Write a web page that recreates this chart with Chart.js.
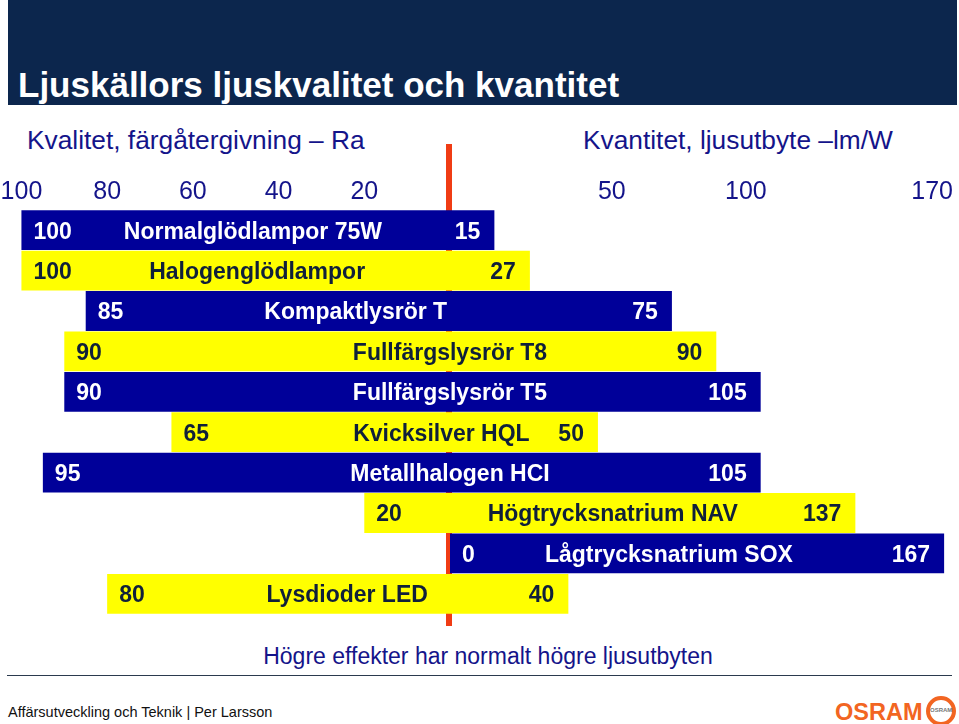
<!DOCTYPE html>
<html>
<head>
<meta charset="utf-8">
<script src="https://cdn.jsdelivr.net/npm/chart.js@4"></script>
<style>
  html, body { margin: 0; padding: 0; background: #fff; }
  body { width: 959px; height: 724px; position: relative; overflow: hidden; font-family: Arial, "Liberation Sans", sans-serif; }
  .abs { position: absolute; white-space: nowrap; }
  #band { left: 8px; top: 0; width: 949px; height: 105px; background: #0c264d; }
  #title { left: 18px; top: 67px; font-size: 35px; line-height: 35px; font-weight: bold; color: #fff; }
  .sub { top: 127px; font-size: 26.3px; line-height: 26px; color: #14148a; }
  #note { left: 0; width: 976px; text-align: center; top: 645px; font-size: 23px; line-height: 23px; color: #14148a; }
  #rule { left: 7px; top: 675px; width: 945px; height: 1px; background: #2b3a4e; }
  #footer { left: 8px; top: 705px; font-size: 14.5px; line-height: 14.5px; color: #111; }
  #osram { left: 835px; top: 701px; font-size: 23.5px; line-height: 23.5px; font-weight: 900; color: #f26522; }
  #logo { left: 926px; top: 696px; width: 22px; height: 22px; border: 4px solid #f26522; border-radius: 50%; background: #fff; }
  #logo span { position: absolute; left: 0; top: 7px; width: 22px; text-align: center; font-size: 6px; font-weight: bold; color: #777; }
  #chart { position: absolute; left: 0; top: 0; }
</style>
</head>
<body>
<div id="band" class="abs"></div>
<div id="title" class="abs">Ljuskällors ljuskvalitet och kvantitet</div>
<div class="abs sub" style="left:27px">Kvalitet, färgåtergivning – Ra</div>
<div class="abs sub" style="left:583px">Kvantitet, ljusutbyte –lm/W</div>
<div id="note" class="abs">Högre effekter har normalt högre ljusutbyten</div>
<div id="rule" class="abs"></div>
<div id="footer" class="abs">Affärsutveckling och Teknik | Per Larsson</div>
<div id="osram" class="abs">OSRAM</div>
<div id="logo" class="abs"><span>OSRAM</span></div>
<canvas id="chart" width="959" height="724"></canvas>
<script>
// lamp types, top to bottom
const lamps = [
  'Normalglödlampor 75W',
  'Halogenglödlampor',
  'Kompaktlysrör T',
  'Fullfärgslysrör T8',
  'Fullfärgslysrör T5',
  'Kvicksilver HQL',
  'Metallhalogen HCI',
  'Högtrycksnatrium NAV',
  'Lågtrycksnatrium SOX',
  'Lysdioder LED'
];
// colour rendering index Ra (left side)
const ra = [100, 100, 85, 90, 90, 65, 95, 20, 0, 80];
// luminous efficacy lm/W (right side)
const lmW = [15, 27, 75, 90, 105, 50, 105, 137, 167, 40];
const raTicks = [20, 40, 60, 80, 100];
const lmTicks = [50, 100, 170];

// label layout: where the name sits, in axis units (negative = Ra side)
const nameAt = [-46, -45, -22, 0, 0, -2, 0, 55, 74, -24];

const NAVY = '#000099';
const YELLOW = '#ffff00';
const barColors = lamps.map((l, i) => i % 2 === 0 ? NAVY : YELLOW);
const textColors = lamps.map((l, i) => i % 2 === 0 ? '#ffffff' : '#10203a');
const FONT = 'Arial, "Liberation Sans", sans-serif';

const centerLine = {
  id: 'centerLine',
  beforeDatasetsDraw(chart) {
    const ctx = chart.ctx;
    const x = chart.scales.xLm.getPixelForValue(0);
    ctx.save();
    ctx.fillStyle = '#f03c14';
    ctx.fillRect(x - 4, chart.chartArea.top - 66, 6, chart.chartArea.bottom - chart.chartArea.top + 78);
    ctx.restore();
  }
};

const barText = {
  id: 'barText',
  afterDatasetsDraw(chart) {
    const ctx = chart.ctx;
    const xR = chart.scales.xRa, xL = chart.scales.xLm, y = chart.scales.y;
    ctx.save();
    ctx.font = 'bold 23px ' + FONT;
    ctx.textBaseline = 'middle';
    lamps.forEach((name, i) => {
      const cy = y.getPixelForValue(i) + 2;
      ctx.fillStyle = textColors[i];
      const left = ra[i] > 0 ? xR.getPixelForValue(ra[i]) : xL.getPixelForValue(0);
      ctx.textAlign = 'left';
      ctx.fillText(String(ra[i]), left + 12, cy);
      ctx.textAlign = 'right';
      ctx.fillText(String(lmW[i]), xL.getPixelForValue(lmW[i]) - 14, cy);
      ctx.textAlign = 'center';
      const nx = nameAt[i] < 0 ? xR.getPixelForValue(-nameAt[i]) : xL.getPixelForValue(nameAt[i]);
      ctx.fillText(name, nx, cy);
    });
    ctx.restore();
  }
};

const tickFont = { family: FONT, size: 25 };

new Chart(document.getElementById('chart').getContext('2d'), {
  type: 'bar',
  data: {
    labels: lamps,
    datasets: [
      {
        label: 'Ra',
        data: ra,
        xAxisID: 'xRa',
        backgroundColor: barColors,
        borderWidth: 0,
        grouped: false,
        barPercentage: 1,
        categoryPercentage: 0.985
      },
      {
        label: 'lm/W',
        data: lmW,
        xAxisID: 'xLm',
        backgroundColor: barColors,
        borderWidth: 0,
        grouped: false,
        barPercentage: 1,
        categoryPercentage: 0.985
      }
    ]
  },
  options: {
    indexAxis: 'y',
    responsive: false,
    animation: false,
    layout: { padding: { top: 174, bottom: 110, left: 0, right: 6 } },
    scales: {
      y: { display: false },
      xRa: {
        type: 'linear',
        position: 'top',
        stack: 'top',
        stackWeight: 450,
        weight: 1,
        reverse: true,
        min: 0,
        max: 105,
        border: { display: false },
        grid: { display: false, drawTicks: false },
        ticks: { font: tickFont, color: '#14148a', padding: 3 },
        afterBuildTicks: (s) => { s.ticks = raTicks.map(v => ({ value: v })); }
      },
      xLm: {
        type: 'linear',
        position: 'top',
        stack: 'top',
        stackWeight: 503,
        weight: 0,
        min: 0,
        max: 170,
        border: { display: false },
        grid: { display: false, drawTicks: false },
        ticks: { font: tickFont, color: '#14148a', padding: 3, align: 'inner' },
        afterBuildTicks: (s) => { s.ticks = lmTicks.map(v => ({ value: v })); }
      }
    },
    plugins: {
      legend: { display: false },
      tooltip: { enabled: false }
    }
  },
  plugins: [centerLine, barText]
});
</script>
</body>
</html>
